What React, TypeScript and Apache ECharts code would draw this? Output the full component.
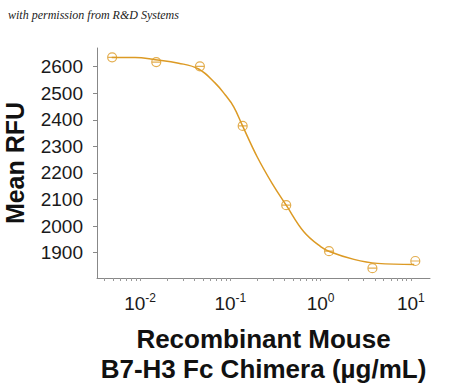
import React, { useEffect, useRef } from "react";
import * as echarts from "echarts";

const concentrations = [0.0049, 0.0151, 0.046, 0.137, 0.416, 1.24, 3.75, 11.2];
const meanRFU = [2635, 2617, 2601, 2377, 2079, 1906, 1842, 1869];

const fitX = [0.00485, 0.0088, 0.0147, 0.0267, 0.0445, 0.068, 0.088, 0.109, 0.135, 0.198, 0.29, 0.419, 0.652, 1.0, 1.27, 2.34, 4.26, 10.9];
const fitY = [2634, 2634, 2626, 2613, 2591, 2538, 2493, 2449, 2381, 2261, 2161, 2077, 1979, 1923, 1904, 1875, 1860, 1856];

const yTickValues = [1900, 2000, 2100, 2200, 2300, 2400, 2500, 2600];
const xLabelValues = [0.01, 0.1, 1, 10];
const xTickValues = [
  0.004, 0.005, 0.006, 0.007, 0.008, 0.009,
  0.01, 0.02, 0.03, 0.04, 0.05, 0.06, 0.07, 0.08, 0.09,
  0.1, 0.2, 0.3, 0.4, 0.5, 0.6, 0.7, 0.8, 0.9,
  1, 2, 3, 4, 5, 6, 7, 8, 9, 10,
];

const ORANGE = "#DC9A24";
const MARKER = "path://M0,5 A5,5 0 1,1 10,5 A5,5 0 1,1 0,5 Z M0,5 L10,5";

export default function App() {
  const ref = useRef<HTMLDivElement>(null);
  useEffect(() => {
    if (!ref.current) return;
    const chart = echarts.init(ref.current, null, { renderer: "svg" });
    chart.setOption({
      animation: false,
      backgroundColor: "#ffffff",
      graphic: [
        {
          type: "text",
          left: 8,
          top: 9,
          style: {
            text: "with permission from R&D Systems",
            font: "italic 12px 'Liberation Serif', serif",
            fill: "#222",
          },
        },
      ],
      grid: { left: 97, right: 20, top: 48, bottom: 107, containLabel: false, outerBoundsMode: "none" },
      xAxis: {
        type: "log",
        logBase: 10,
        min: 0.00333,
        max: 16.3,
        name: "Recombinant Mouse\nB7-H3 Fc Chimera (µg/mL)",
        nameLocation: "middle",
        nameGap: 46,
        nameTextStyle: {
          fontFamily: "'Liberation Sans', Arial, sans-serif",
          fontWeight: "bold",
          fontSize: 26,
          lineHeight: 30,
          color: "#111",
        },
        axisLine: { show: true, lineStyle: { color: "#888", width: 1 } },
        axisTick: { show: true, length: 3, customValues: xTickValues, lineStyle: { color: "#999" } },
        axisLabel: {
          customValues: xLabelValues,
          margin: 14,
          formatter: (v: number) => `{b|10}{s|${Math.round(Math.log10(v))}}`,
          rich: {
            b: { fontSize: 19, fontFamily: "'Liberation Sans', Arial, sans-serif", color: "#1a1a1a", lineHeight: 23 },
            s: { fontSize: 12, fontFamily: "'Liberation Sans', Arial, sans-serif", color: "#1a1a1a", verticalAlign: "top", lineHeight: 23 },
          },
        },
        splitLine: { show: false },
        minorTick: { show: false },
      },
      yAxis: {
        type: "value",
        min: 1805,
        max: 2670,
        name: "Mean RFU",
        nameLocation: "middle",
        nameGap: 70,
        nameTextStyle: {
          fontFamily: "'Liberation Sans', Arial, sans-serif",
          fontWeight: "bold",
          fontSize: 25,
          color: "#111",
        },
        axisLine: { show: true, lineStyle: { color: "#888", width: 1 } },
        axisTick: { show: true, length: 4, customValues: yTickValues, lineStyle: { color: "#888" } },
        axisLabel: {
          customValues: yTickValues,
          margin: 14,
          fontSize: 19,
          fontFamily: "'Liberation Sans', Arial, sans-serif",
          color: "#1a1a1a",
          formatter: (v: number) => String(v),
        },
        splitLine: { show: false },
      },
      series: [
        {
          type: "line",
          data: fitX.map((x, i) => [x, fitY[i]]),
          smooth: 0.4,
          showSymbol: false,
          symbol: "none",
          lineStyle: { color: ORANGE, width: 1.5 },
          z: 2,
        },
        {
          type: "scatter",
          data: concentrations.map((x, i) => [x, meanRFU[i]]),
          symbol: MARKER,
          symbolSize: 9,
          itemStyle: { color: "rgba(255,255,255,0)", borderColor: ORANGE, borderWidth: 1.2 },
          z: 3,
        },
      ],
    });
    return () => chart.dispose();
  }, []);
  return (
    <div
      ref={ref}
      style={{ position: "fixed", left: 0, top: 0, width: 450, height: 385 }}
    />
  );
}
